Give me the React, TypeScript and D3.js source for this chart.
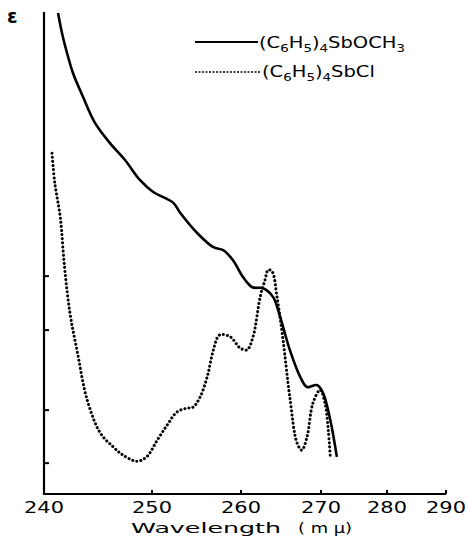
import * as d3 from 'd3'

// wavelength (mμ) vs extinction (arbitrary units, no scale printed)
const sbOCH3Wave = [241.3, 241.67, 242.13, 242.69, 243.61, 244.72, 246.11, 247.5, 248.9, 250.1, 252.4, 253.1, 255.1, 256.9, 258.0, 259.1, 260.25, 261.4, 262.75, 264.0, 264.9, 266.1, 267.4, 268.25, 269.5, 270.3, 271.4, 272.4]
const sbOCH3Eps = [99.8, 95.6, 91.5, 87.3, 82.4, 77.0, 72.8, 69.3, 65.1, 62.7, 60.4, 58.5, 54.1, 51.2, 50.6, 48.5, 45.0, 42.9, 42.7, 40.9, 36.7, 29.9, 24.3, 22.2, 22.6, 21.0, 15.4, 7.7]

const sbClWave = [240.74, 241.0, 241.5, 241.9, 242.4, 243.1, 244.0, 245.2, 246.4, 247.3, 248.6, 249.5, 250.6, 251.7, 252.8, 253.9, 254.6, 255.4, 256.2, 256.9, 257.6, 258.8, 259.9, 260.75, 261.5, 262.4, 263.0, 263.4, 263.9, 264.5, 265.25, 266.1, 267.0, 267.6, 268.25, 269.0, 269.9, 270.6, 271.1, 271.4]
const sbClEps = [70.7, 64.5, 57.5, 47.1, 37.6, 29.3, 19.5, 12.7, 9.8, 8.1, 6.8, 7.7, 11.2, 14.3, 17.0, 17.8, 18.0, 20.1, 24.3, 29.9, 33.0, 32.6, 30.3, 29.9, 32.6, 40.9, 44.4, 46.5, 46.1, 40.9, 32.0, 20.1, 10.6, 9.1, 11.8, 18.9, 21.6, 18.9, 13.3, 7.7]

const xTicks = [240, 250, 260, 270, 280, 290]
const yTicks = [6.4, 17.4, 34.0, 45.2]

// formula pieces: [text, isSubscript]
const formula1: [string, boolean][] = [['(C', false], ['6', true], ['H', false], ['5', true], [')', false], ['4', true], ['SbOCH', false], ['3', true]]
const formula2: [string, boolean][] = [['(C', false], ['6', true], ['H', false], ['5', true], [')', false], ['4', true], ['SbCl', false]]

const font = "'DejaVu Sans', sans-serif"

function Formula({ parts }: { parts: [string, boolean][] }) {
  let prevSub = false
  return (
    <text fontFamily={font} fontSize={16}>
      {parts.map(([s, isSub], i) => {
        const dy = isSub === prevSub ? 0 : isSub ? 4 : -4
        prevSub = isSub
        return <tspan key={i} dy={dy} fontSize={isSub ? 11 : 16}>{s}</tspan>
      })}
    </text>
  )
}

export default function App() {
  // the printed axis is not evenly spaced, so map each tick to where it sits
  const x = d3.scaleLinear().domain(xTicks).range([44, 152, 241, 321, 387, 446])
  const y = d3.scaleLinear().domain([0, 100]).range([494, 12])

  const line = d3.line<[number, number]>()
    .x(d => x(d[0]))
    .y(d => y(d[1]))
    .curve(d3.curveCatmullRom)

  const solid = line(sbOCH3Wave.map((w, i) => [w, sbOCH3Eps[i]]))
  const dotted = line(sbClWave.map((w, i) => [w, sbClEps[i]]))

  return (
    <svg width={467} height={548} style={{ position: 'absolute', left: 0, top: 0 }}>
      <rect width={467} height={548} fill="#fff" />
      <text x={7} y={23} fontFamily={font} fontSize={19} fontWeight="bold">ε</text>

      {/* axes */}
      <line x1={44} x2={44} y1={12} y2={494} stroke="#000" strokeWidth={2.2} />
      <line x1={43} x2={446} y1={494} y2={494} stroke="#000" strokeWidth={2} />
      {yTicks.map(t => (
        <line key={t} x1={44} x2={49} y1={y(t)} y2={y(t)} stroke="#000" strokeWidth={2} />
      ))}
      {xTicks.slice(1).map(t => (
        <line key={t} x1={x(t)} x2={x(t)} y1={494} y2={490} stroke="#000" strokeWidth={2} />
      ))}
      {xTicks.map(t => (
        <text key={t} x={x(t) - 20} y={513} textLength={40} lengthAdjust="spacingAndGlyphs"
          fontFamily={font} fontSize={15}>{t}</text>
      ))}
      <text x={131} y={533} textLength={150} lengthAdjust="spacingAndGlyphs" fontFamily={font} fontSize={14}>
        Wavelength
      </text>
      <text x={298} y={533} textLength={54} lengthAdjust="spacingAndGlyphs" fontFamily={font} fontSize={14}>
        ( m μ)
      </text>

      {/* curves */}
      <path d={solid ?? ''} fill="none" stroke="#000" strokeWidth={2.6} />
      <path d={dotted ?? ''} fill="none" stroke="#000" strokeWidth={3} strokeLinecap="round" strokeDasharray="0.1 4" />

      {/* legend */}
      <line x1={195} x2={258} y1={42} y2={42} stroke="#000" strokeWidth={2} />
      <g transform="translate(259,48) scale(1.22,1)">
        <Formula parts={formula1} />
      </g>
      <line x1={195} x2={261} y1={72} y2={72} stroke="#000" strokeWidth={1.5} strokeDasharray="2 1.5" />
      <g transform="translate(262,77) scale(1.22,1)">
        <Formula parts={formula2} />
      </g>
    </svg>
  )
}
